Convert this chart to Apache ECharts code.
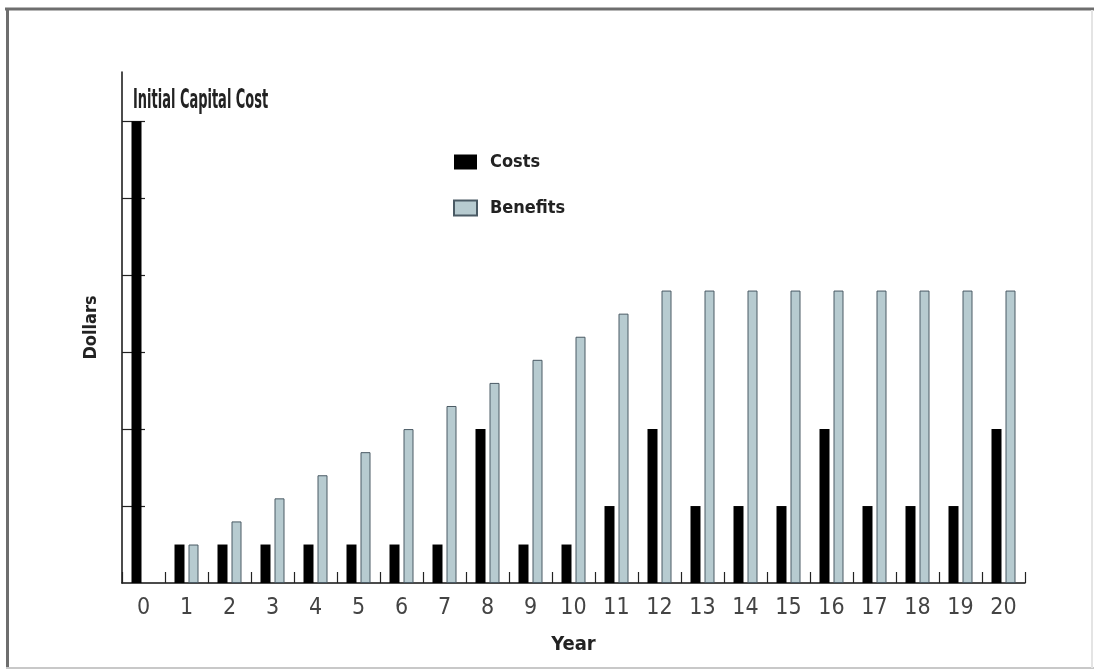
<!DOCTYPE html>
<html>
<head>
<meta charset="utf-8">
<script src="https://cdn.jsdelivr.net/npm/echarts@6/dist/echarts.min.js"></script>
<style>
html,body{margin:0;padding:0;background:#fff;}
#c{width:1094px;height:670px;}
</style>
</head>
<body>
<div id="c"></div>
<script>
var years = ['0','1','2','3','4','5','6','7','8','9','10','11','12','13','14','15','16','17','18','19','20'];
var costs = [6, 0.5, 0.5, 0.5, 0.5, 0.5, 0.5, 0.5, 2, 0.5, 0.5, 1, 2, 1, 1, 1, 2, 1, 1, 1, 2];
var benefits = [null, 0.5, 0.8, 1.1, 1.4, 1.7, 2.0, 2.3, 2.6, 2.9, 3.2, 3.5, 3.8, 3.8, 3.8, 3.8, 3.8, 3.8, 3.8, 3.8, 3.8];
var yTicks = [1, 2, 3, 4, 5, 6];

var FONT = "'Liberation Sans Narrow', 'DejaVu Sans Condensed', 'Arial Narrow', sans-serif";

var chart = echarts.init(document.getElementById('c'), null, {renderer: 'canvas'});
chart.setOption({
  animation: false,
  backgroundColor: '#fff',
  grid: {left: 122, right: 69, top: 72, bottom: 87, containLabel: false},
  legend: {
    orient: 'vertical',
    left: 453, top: 153,
    padding: 0,
    icon: 'rect',
    itemWidth: 23, itemHeight: 15,
    itemGap: 28,
    textStyle: {fontFamily: FONT, fontWeight: 'bold', fontSize: 18, color: '#222', padding: [0, 0, 0, 8]},
    data: ['Costs', 'Benefits']
  },
  xAxis: {
    type: 'category',
    data: years,
    boundaryGap: true,
    name: 'Year',
    nameLocation: 'middle',
    nameGap: 52,
    nameTextStyle: {fontFamily: FONT, fontWeight: 'bold', fontSize: 20, color: '#222'},
    axisLine: {lineStyle: {color: '#111', width: 1.5}},
    axisTick: {show: true, inside: true, length: 11, alignWithLabel: false, lineStyle: {color: '#222', width: 1.2}},
    axisLabel: {fontFamily: FONT, fontSize: 23, color: '#444', margin: 14, interval: 0}
  },
  yAxis: {
    type: 'value',
    min: 0, max: 6.64,
    name: 'Dollars',
    nameLocation: 'middle',
    nameGap: 22,
    nameRotate: 90,
    nameTextStyle: {fontFamily: FONT, fontWeight: 'bold', fontSize: 18, color: '#222'},
    axisLine: {show: true, lineStyle: {color: '#111', width: 1.5}},
    axisTick: {show: true, inside: true, length: 23, customValues: yTicks, lineStyle: {color: '#222', width: 1.2}},
    axisLabel: {show: false},
    splitLine: {show: false}
  },
  series: [
    {
      name: 'Costs', type: 'bar', data: costs,
      barWidth: 10, barGap: '40%',
      itemStyle: {color: '#000'}
    },
    {
      name: 'Benefits', type: 'bar', data: benefits,
      barWidth: 10, barGap: '40%',
      itemStyle: {color: '#b7cbd0', borderColor: '#4a5a64', borderWidth: 1}
    }
  ],
  graphic: [
    {type: 'text', left: 133, top: 88, scaleX: 0.555, style: {text: 'Initial Capital Cost', fontFamily: FONT, fontWeight: 'bold', fontSize: 26, fill: '#222'}},
    {type: 'line', shape: {x1: 5, y1: 9, x2: 1094, y2: 9}, style: {stroke: '#6e6e6e', lineWidth: 3}},
    {type: 'line', shape: {x1: 7.5, y1: 8, x2: 7.5, y2: 668}, style: {stroke: '#6e6e6e', lineWidth: 3}},
    {type: 'line', shape: {x1: 6, y1: 668, x2: 1094, y2: 668}, style: {stroke: '#c8c8c8', lineWidth: 2}},
    {type: 'line', shape: {x1: 1092, y1: 10, x2: 1092, y2: 668}, style: {stroke: '#e4e4e4', lineWidth: 2}}
  ]
});
</script>
</body>
</html>
